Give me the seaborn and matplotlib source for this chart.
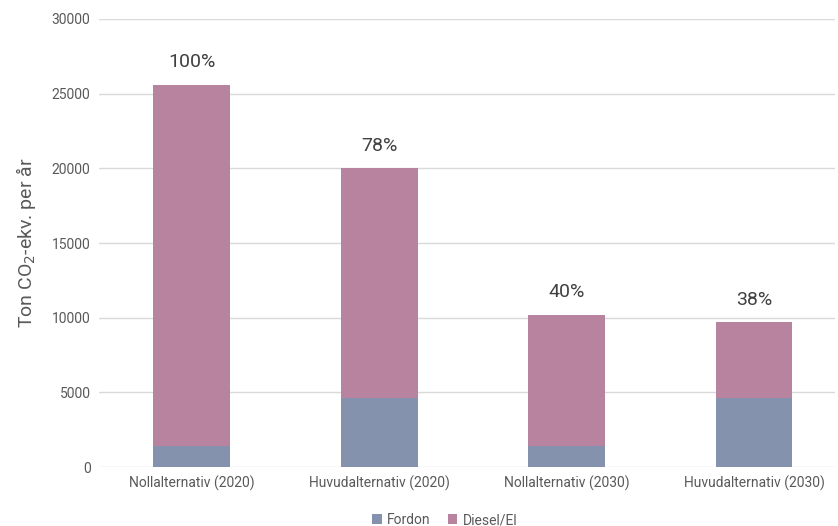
import matplotlib
matplotlib.use("Agg")
import matplotlib.pyplot as plt
import seaborn as sns
import pandas as pd

categories = ["Nollalternativ (2020)", "Huvudalternativ (2020)",
              "Nollalternativ (2030)", "Huvudalternativ (2030)"]
fordon = [1400, 4600, 1400, 4600]
diesel_el = [24200, 15400, 8800, 5100]
series_names = ["Fordon", "Diesel/El"]
colors = {"Fordon": "#8592AE", "Diesel/El": "#B8839F"}

totals = [f + d for f, d in zip(fordon, diesel_el)]
df = pd.DataFrame({"kategori": categories, "Fordon": fordon,
                   "Diesel/El": diesel_el, "Total": totals})

sns.set_theme(style="white")
plt.rcParams["font.family"] = ["Roboto", "DejaVu Sans"]

fig = plt.figure(figsize=(8.38, 5.26), dpi=100)
ax = fig.add_axes([0.118, 0.112, 0.878, 0.852])

# Stacked bars: total height in Diesel/El colour, Fordon drawn over the base
sns.barplot(data=df, x="kategori", y="Total", color=colors["Diesel/El"],
            width=0.41, ax=ax, label="Diesel/El", saturation=1, zorder=2,
            linewidth=0)
sns.barplot(data=df, x="kategori", y="Fordon", color=colors["Fordon"],
            width=0.41, ax=ax, label="Fordon", saturation=1, zorder=3,
            linewidth=0)

base = totals[0]
for i, t in enumerate(totals):
    ax.text(i, t + 900, f"{round(100 * t / base)}%", ha="center", va="bottom",
            fontsize=14, color="#404040")

ax.set_ylim(0, 30000)
ax.set_yticks(range(0, 30001, 5000))
ax.yaxis.grid(True, color="#D9D9D9", linewidth=1)
ax.set_axisbelow(True)
for s in ax.spines.values():
    s.set_visible(False)
ax.tick_params(axis="both", length=0, labelsize=10, colors="#595959", pad=6)
ax.set_xlabel("")
ax.set_ylabel("Ton CO$_2$-ekv. per år", fontsize=14, color="#595959", labelpad=10)
ax.set_xlim(-0.495, 3.43)

handles, labels = ax.get_legend_handles_labels()
order = [labels.index(n) for n in series_names]
ax.legend([handles[k] for k in order], [labels[k] for k in order],
          loc="upper center", bbox_to_anchor=(0.47, -0.075), ncol=2,
          frameon=False, fontsize=10, handlelength=0.7, handleheight=0.7,
          columnspacing=1.2, handletextpad=0.4, labelcolor="#595959")

fig.savefig("out.png", dpi=100)
